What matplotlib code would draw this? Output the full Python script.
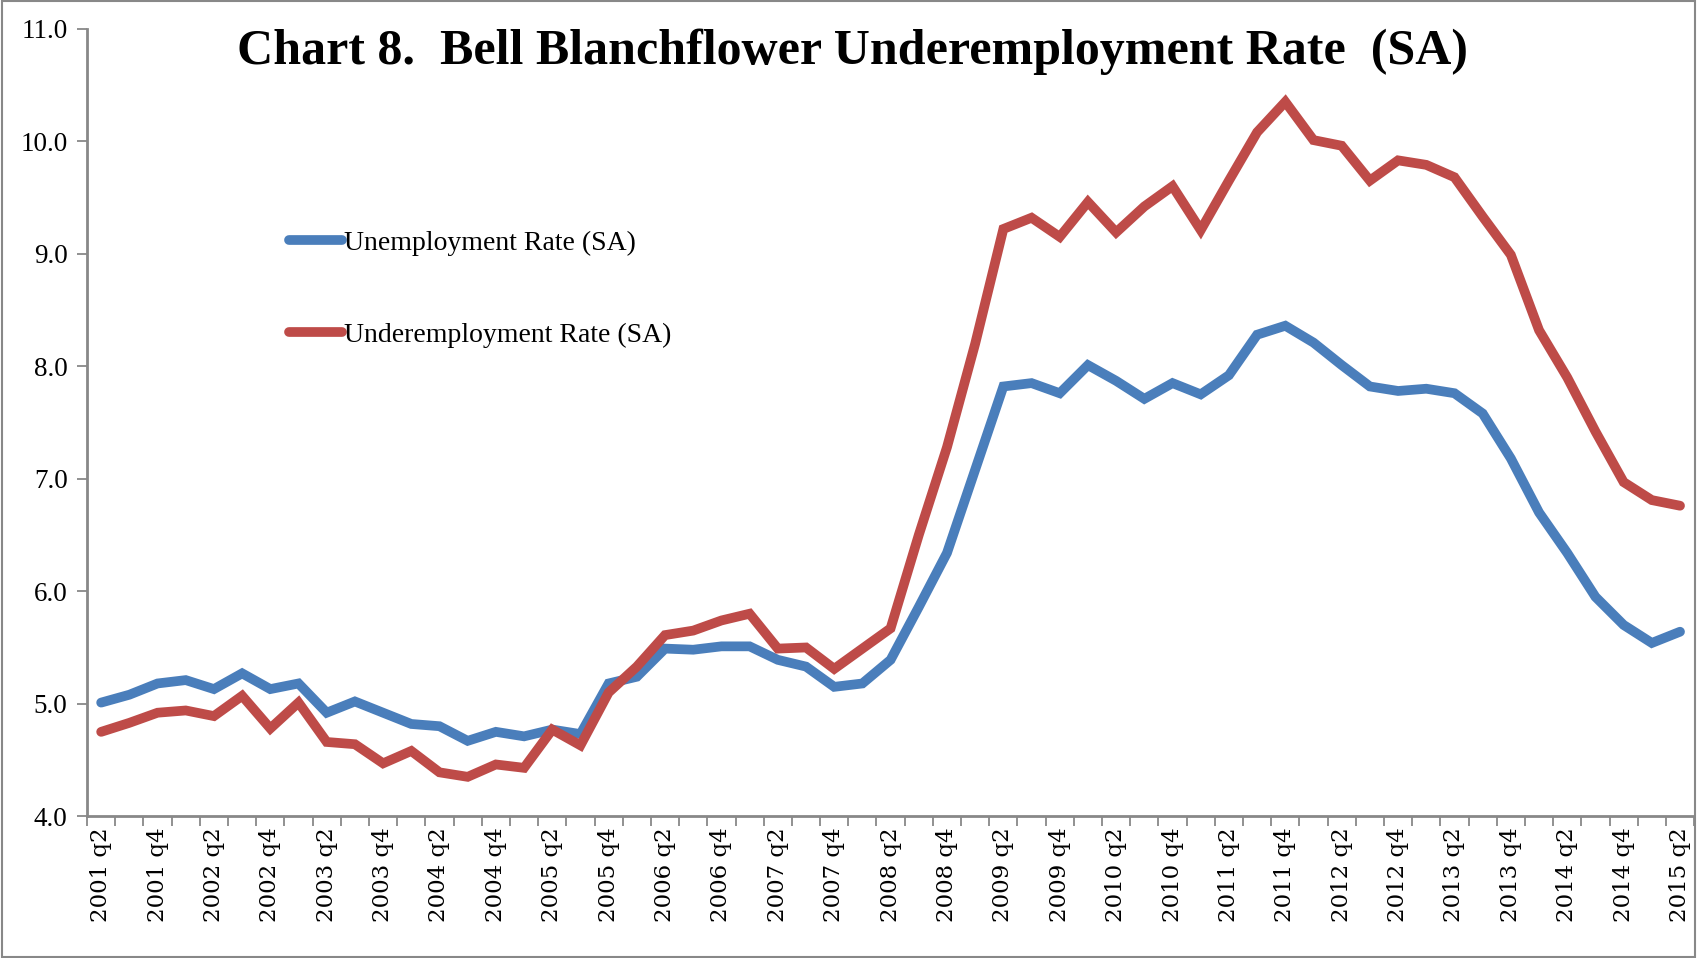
import matplotlib
matplotlib.use("Agg")
import matplotlib.pyplot as plt
import numpy as np

# quarters 2001 q2 .. 2015 q2
quarters = []
for yr in range(2001, 2016):
    for q in range(1, 5):
        if (yr == 2001 and q < 2) or (yr == 2015 and q > 2):
            continue
        quarters.append(f"{yr} q{q}")

unemployment = [5.01, 5.08, 5.18, 5.21, 5.13, 5.27, 5.13, 5.18, 4.92, 5.02,
                4.92, 4.82, 4.80, 4.67, 4.75, 4.71, 4.77, 4.73, 5.18, 5.24,
                5.49, 5.48, 5.51, 5.51, 5.39, 5.33, 5.15, 5.18, 5.39, 5.86,
                6.34, 7.08, 7.82, 7.85, 7.76, 8.01, 7.87, 7.71, 7.85, 7.75,
                7.92, 8.28, 8.36, 8.21, 8.01, 7.82, 7.78, 7.80, 7.76, 7.58,
                7.18, 6.70, 6.34, 5.95, 5.70, 5.54, 5.64]

underemployment = [4.75, 4.83, 4.92, 4.94, 4.89, 5.07, 4.78, 5.01, 4.66, 4.64,
                   4.47, 4.58, 4.39, 4.35, 4.46, 4.43, 4.77, 4.63, 5.10, 5.33,
                   5.61, 5.65, 5.74, 5.80, 5.49, 5.50, 5.31, 5.49, 5.67, 6.50,
                   7.28, 8.20, 9.22, 9.32, 9.15, 9.46, 9.19, 9.42, 9.60, 9.21,
                   9.65, 10.08, 10.35, 10.01, 9.96, 9.65, 9.83, 9.79, 9.68, 9.33,
                   8.99, 8.32, 7.90, 7.42, 6.97, 6.81, 6.76]

BLUE = "#4A7EBB"
RED = "#BE4B48"
AXIS_GREY = "#888888"

fig = plt.figure(figsize=(16.97, 9.58), dpi=100)
ax = fig.add_axes([0.0513, 0.148, 0.947, 0.822])

x = np.arange(len(quarters))
ax.plot(x, unemployment, color=BLUE, lw=7, solid_capstyle="round",
        solid_joinstyle="miter", label="Unemployment Rate (SA)")
ax.plot(x, underemployment, color=RED, lw=7, solid_capstyle="round",
        solid_joinstyle="miter", label="Underemployment Rate (SA)")

ax.set_xlim(-0.5, len(quarters) - 0.5)
ax.set_ylim(4.0, 11.0)

# y axis
yticks = np.arange(4.0, 11.01, 1.0)
ax.set_yticks(yticks)
ax.set_yticklabels([f"{v:.1f}" for v in yticks])
for lbl in ax.get_yticklabels():
    lbl.set_fontfamily("Liberation Serif")
    lbl.set_fontsize(19.5)
ax.tick_params(axis="y", direction="out", length=7, width=1.3, color=AXIS_GREY, pad=7)

# x axis: labels every second quarter, ticks at category boundaries
ax.set_xticks(x[::2])
ax.set_xticklabels(quarters[::2], rotation=90)
for lbl in ax.get_xticklabels():
    lbl.set_fontfamily("DejaVu Serif")
    lbl.set_fontsize(16.5)
ax.tick_params(axis="x", which="major", length=0, pad=8)
ax.set_xticks(np.arange(-0.5, len(quarters)), minor=True)
ax.tick_params(axis="x", which="minor", direction="out", length=7, width=1.3, color=AXIS_GREY)

for side in ["top", "right"]:
    ax.spines[side].set_visible(False)
for side in ["left", "bottom"]:
    ax.spines[side].set_color(AXIS_GREY)
    ax.spines[side].set_linewidth(2)

fig.text(0.5026, 0.9458, "Chart 8.  Bell Blanchflower Underemployment Rate  (SA)",
         fontfamily="Liberation Serif", fontweight="bold", fontsize=36,
         ha="center", va="center")

leg = ax.legend(loc="upper left", bbox_to_anchor=(0.11, 0.776), frameon=False,
                prop={"family": "Liberation Serif", "size": 20},
                handlelength=1.9, handletextpad=0.1, labelspacing=2.4)

# outer border
fig.patches.append(plt.Rectangle((0.001, 0.001), 0.998, 0.998, transform=fig.transFigure,
                                 fill=False, edgecolor=AXIS_GREY, lw=1.5))

fig.savefig("out.png", dpi=100)
